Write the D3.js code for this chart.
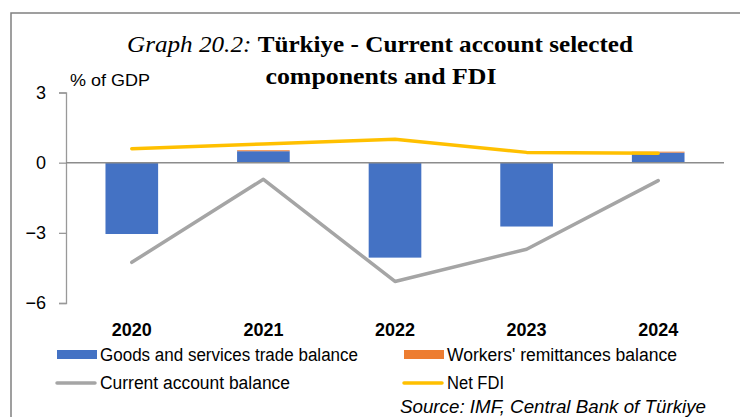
<!DOCTYPE html>
<html>
<head>
<meta charset="utf-8">
<script src="https://cdn.jsdelivr.net/npm/d3@7"></script>
<style>
  body { margin: 0; background: #fff; }
  svg { display: block; }
</style>
</head>
<body>
<svg width="740" height="417"></svg>
<script>
var years = ['2020', '2021', '2022', '2023', '2024'];
var tradeBalance = [-3.05, 0.49, -4.06, -2.73, 0.43];
var remittances = [0.01, 0.04, 0.01, 0.01, 0.04];
var currentAccount = [-4.26, -0.71, -5.08, -3.70, -0.77];
var netFdi = [0.60, 0.80, 1.00, 0.44, 0.40];
var yTicks = [3, 0, -3, -6];

function drawChart() {
  'use strict';
  var svg = d3.select('svg');
  var narrow = '"Liberation Sans Narrow", "Arial Narrow", "Liberation Sans", Arial, sans-serif';
  var serif = '"Liberation Serif", "Times New Roman", serif';

  // frame
  svg.append('path')
    .attr('d', 'M 11,430 L 11,13 L 750,13')
    .attr('fill', 'none')
    .attr('stroke', '#808080')
    .attr('stroke-width', 1.5);

  var x = d3.scaleBand().domain(years).range([66, 724]).paddingInner(0.6).paddingOuter(0.3);
  var xc = d3.scalePoint().domain(years).range([66, 724]).padding(0.5);
  var y = d3.scaleLinear().domain([-6, 3]).range([303, 92.5]);

  // title
  var title = svg.append('text')
    .attr('x', 380).attr('y', 52)
    .attr('text-anchor', 'middle')
    .attr('textLength', 506)
    .attr('lengthAdjust', 'spacingAndGlyphs')
    .style('font-family', serif)
    .style('font-size', '24px');
  title.append('tspan').style('font-style', 'italic').text('Graph 20.2: ');
  title.append('tspan').style('font-weight', 'bold').text('Türkiye - Current account selected');
  svg.append('text')
    .attr('x', 381).attr('y', 84)
    .attr('text-anchor', 'middle')
    .attr('textLength', 231)
    .attr('lengthAdjust', 'spacingAndGlyphs')
    .style('font-family', serif)
    .style('font-size', '24px')
    .style('font-weight', 'bold')
    .text('components and FDI');

  svg.append('text')
    .attr('x', 70).attr('y', 86)
    .attr('textLength', 80)
    .attr('lengthAdjust', 'spacingAndGlyphs')
    .style('font-family', narrow)
    .style('font-size', '17px')
    .text('% of GDP');

  // y axis
  var yAxis = d3.axisLeft(y).tickValues(yTicks).tickSize(7).tickPadding(13)
    .tickFormat(d3.format('d'));
  var ga = svg.append('g').attr('transform', 'translate(66,0)').call(yAxis);
  ga.select('.domain').attr('stroke', '#999').attr('stroke-width', 1.3);
  ga.selectAll('.tick line').attr('stroke', '#999').attr('stroke-width', 1.3);
  ga.selectAll('.tick text')
    .style('font-family', '"Liberation Sans", Arial, sans-serif')
    .style('font-size', '18px')
    .attr('fill', '#000');

  // bars
  svg.selectAll('.bar').data(years).enter()
    .append('rect')
    .attr('class', 'bar')
    .attr('x', function (d) { return x(d); })
    .attr('width', x.bandwidth())
    .attr('y', function (d, i) { return y(Math.max(0, tradeBalance[i])); })
    .attr('height', function (d, i) { return Math.abs(y(tradeBalance[i]) - y(0)); })
    .attr('fill', '#4472C4');

  svg.selectAll('.rem').data(years).enter()
    .append('rect')
    .attr('class', 'rem')
    .attr('x', function (d) { return x(d); })
    .attr('width', x.bandwidth())
    .attr('y', function (d, i) {
      var base = Math.max(0, tradeBalance[i]);
      return y(base + remittances[i]);
    })
    .attr('height', function (d, i) { return y(0) - y(remittances[i]); })
    .attr('fill', '#ED7D31');

  // zero line
  svg.append('line')
    .attr('x1', 66).attr('x2', 724)
    .attr('y1', y(0)).attr('y2', y(0))
    .attr('stroke', '#8c8c8c').attr('stroke-width', 1.5);

  var line = d3.line()
    .x(function (d, i) { return xc(years[i]); })
    .y(function (d) { return y(d); });

  svg.append('path').datum(currentAccount)
    .attr('d', line)
    .attr('fill', 'none')
    .attr('stroke', '#A5A5A5')
    .attr('stroke-width', 3.5)
    .attr('stroke-linecap', 'round')
    .attr('stroke-linejoin', 'round');

  svg.append('path').datum(netFdi)
    .attr('d', line)
    .attr('fill', 'none')
    .attr('stroke', '#FFC000')
    .attr('stroke-width', 3.5)
    .attr('stroke-linecap', 'round')
    .attr('stroke-linejoin', 'round');

  // x labels
  svg.selectAll('.xl').data(years).enter()
    .append('text')
    .attr('class', 'xl')
    .attr('x', function (d) { return xc(d); })
    .attr('y', 336)
    .attr('text-anchor', 'middle')
    .style('font-family', '"Liberation Sans", Arial, sans-serif')
    .style('font-size', '18px')
    .style('font-weight', 'bold')
    .text(function (d) { return d; });

  // legend
  var legend = [
    {label: 'Goods and services trade balance', color: '#4472C4', type: 'rect', x: 57, y: 361, w: 258},
    {label: "Workers' remittances balance", color: '#ED7D31', type: 'rect', x: 404, y: 361, w: 230},
    {label: 'Current account balance', color: '#A5A5A5', type: 'line', x: 57, y: 389, w: 190},
    {label: 'Net FDI', color: '#FFC000', type: 'line', x: 404, y: 389, w: 57}
  ];
  legend.forEach(function (l) {
    if (l.type === 'rect') {
      svg.append('rect')
        .attr('x', l.x).attr('y', l.y - 11)
        .attr('width', 40).attr('height', 9)
        .attr('fill', l.color);
    } else {
      svg.append('line')
        .attr('x1', l.x).attr('x2', l.x + 38)
        .attr('y1', l.y - 6).attr('y2', l.y - 6)
        .attr('stroke', l.color)
        .attr('stroke-width', 3.5)
        .attr('stroke-linecap', 'round');
    }
    svg.append('text')
      .attr('x', l.x + 43).attr('y', l.y)
      .attr('textLength', l.w)
      .attr('lengthAdjust', 'spacingAndGlyphs')
      .style('font-family', narrow)
      .style('font-size', '18px')
      .text(l.label);
  });

  svg.append('text')
    .attr('x', 400).attr('y', 413)
    .attr('textLength', 306)
    .attr('lengthAdjust', 'spacingAndGlyphs')
    .style('font-family', narrow)
    .style('font-size', '18px')
    .style('font-style', 'italic')
    .text('Source: IMF, Central Bank of Türkiye');
}

drawChart();
</script>
</body>
</html>
